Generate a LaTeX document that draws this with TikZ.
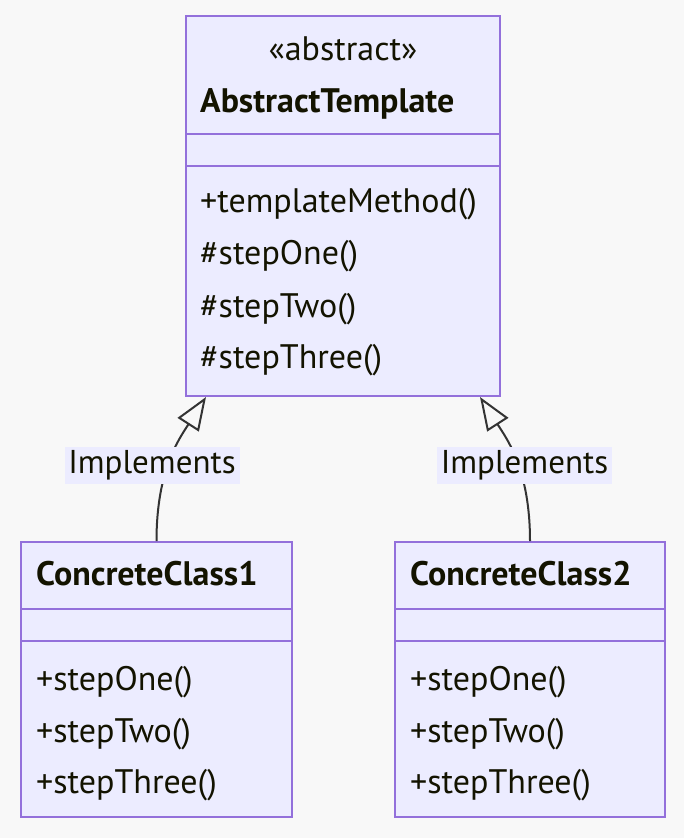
\documentclass[tikz,border=0pt]{standalone}
\usepackage{fontspec}
\setmainfont{PT Sans}
\usepackage{xcolor}
\usepackage{tikz}
\usetikzlibrary{arrows.meta}
\definecolor{bgcol}{HTML}{F8F8F8}
\definecolor{boxfill}{HTML}{ECECFF}
\definecolor{boxline}{HTML}{9370DB}
\definecolor{linecol}{HTML}{333333}
\definecolor{txtcol}{HTML}{131300}
\tikzset{
  classbox/.style={draw=boxline,fill=boxfill,line width=2pt,inner sep=0pt},
  divider/.style={draw=boxline,line width=2pt},
  member/.style={anchor=base west,inner sep=0pt,text=txtcol,font=\fontsize{34}{40}\selectfont},
  classname/.style={member,font=\fontsize{34}{40}\selectfont\bfseries},
  stereotype/.style={member,anchor=base},
  implements/.style={draw=linecol,line width=2pt,-{Triangle[open,length=33pt,width=25pt]}},
  edgelabel/.style={fill=boxfill,text=txtcol,inner sep=0pt,minimum width=175pt,minimum height=37pt,font=\fontsize{33}{40}\selectfont}
}

\begin{document}
\begin{tikzpicture}[x=1pt,y=-1pt]
\fill[bgcol] (0,0) rectangle (684,838);
\useasboundingbox (0,0) rectangle (684,838);
  \node[classbox,minimum width=314pt,minimum height=380pt] (abs) at (343,206) {};
  \draw[divider] (186,134)--(500,134);
  \draw[divider] (186,166)--(500,166);
  \node[stereotype] (absstereo) at (343,60) {«abstract»};
  \node[classname] (absname) at (200,112) {AbstractTemplate};
  \node[member] (absm1) at (200,212) {+templateMethod()};
  \node[member] (absm2) at (200,264) {\#stepOne()};
  \node[member] (absm3) at (200,317) {\#stepTwo()};
  \node[member] (absm4) at (200,368) {\#stepThree()};
  \node[classbox,minimum width=271pt,minimum height=275pt] (cc1) at (156.5,679.5) {};
  \draw[divider] (21,609)--(292,609);
  \draw[divider] (21,641)--(292,641);
  \node[classname] (cc1name) at (36,585) {ConcreteClass1};
  \node[member] (cc1m1) at (36,690) {+stepOne()};
  \node[member] (cc1m2) at (36,742) {+stepTwo()};
  \node[member] (cc1m3) at (36,793) {+stepThree()};
  \node[classbox,minimum width=270pt,minimum height=275pt] (cc2) at (530,679.5) {};
  \draw[divider] (395,609)--(665,609);
  \draw[divider] (395,641)--(665,641);
  \node[classname] (cc2name) at (410,585) {ConcreteClass2};
  \node[member] (cc2m1) at (410,690) {+stepOne()};
  \node[member] (cc2m2) at (410,742) {+stepTwo()};
  \node[member] (cc2m3) at (410,793) {+stepThree()};
\draw[implements] (cc1.north) .. controls +(0,-71) and +(-27,42) .. ([xshift=21pt]abs.south west);
\draw[implements] (cc2.north) .. controls +(0,-71) and +(27,42) .. ([xshift=-21pt]abs.south east);
  \node[edgelabel] (lab1) at (152,465.5) {Implements};
  \node[edgelabel] (lab2) at (524.5,465.5) {Implements};
\end{tikzpicture}
\end{document}
